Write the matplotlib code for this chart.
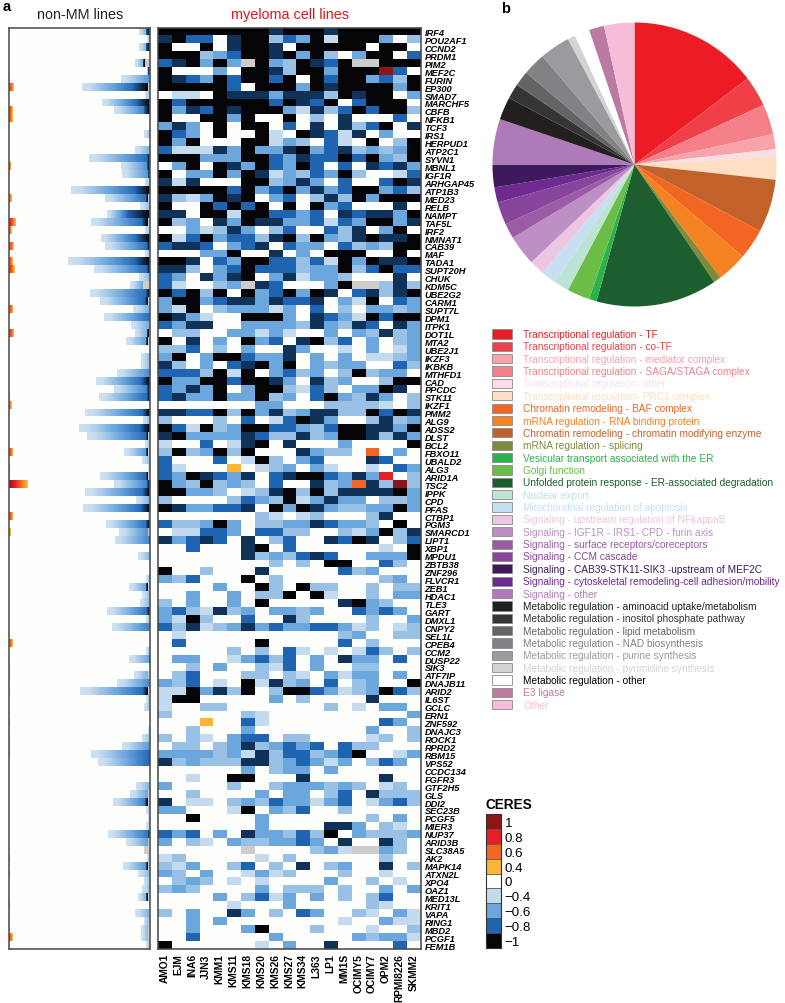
#!/usr/bin/env python3
"""
CERES heatmaps of myeloma dependency genes, plus functional category pie
"""
import numpy as np
import matplotlib
matplotlib.use("Agg")
import matplotlib.pyplot as plt
from matplotlib.colors import LinearSegmentedColormap, Normalize
from matplotlib.patches import Rectangle

plt.rcParams['font.family'] = ['Liberation Sans', 'DejaVu Sans']

genes = ["IRF4", "POU2AF1", "CCND2", "PRDM1", "PIM2", "MEF2C", "FURIN", "EP300", "SMAD7", "MARCHF5",
         "CBFB", "NFKB1", "TCF3", "IRS1", "HERPUD1", "ATP2C1", "SYVN1", "MBNL1", "IGF1R", "ARHGAP45",
         "ATP1B3", "MED23", "RELB", "NAMPT", "TAF5L", "IRF2", "NMNAT1", "CAB39", "MAF", "TADA1",
         "SUPT20H", "CHUK", "KDM5C", "UBE2G2", "CARM1", "SUPT7L", "DPM1", "ITPK1", "DOT1L", "MTA2",
         "UBE2J1", "IKZF3", "IKBKB", "MTHFD1", "CAD", "PPCDC", "STK11", "IKZF1", "PMM2", "ALG9",
         "ADSS2", "DLST", "BCL2", "FBXO11", "UBALD2", "ALG3", "ARID1A", "TSC2", "IPPK", "CPD",
         "PFAS", "CTBP1", "PGM3", "SMARCD1", "LIPT1", "XBP1", "MPDU1", "ZBTB38", "ZNF296", "FLVCR1",
         "ZEB1", "HDAC1", "TLE3", "GART", "DMXL1", "CNPY2", "SEL1L", "CPEB4", "CCM2", "DUSP22",
         "SIK3", "ATF7IP", "DNAJB11", "ARID2", "IL6ST", "GCLC", "ERN1", "ZNF592", "DNAJC3", "ROCK1",
         "RPRD2", "RBM15", "VPS52", "CCDC134", "FGFR3", "GTF2H5", "GLS", "DDI2", "SEC23B", "PCGF5",
         "MIER3", "NUP37", "ARID3B", "SLC38A5", "AK2", "MAPK14", "ATXN2L", "XPO4", "OAZ1", "MED13L",
         "KRIT1", "VAPA", "RING1", "MBD2", "PCGF1", "FEM1B"]

cell_lines = ["AMO1", "EJM", "INA6", "JJN3", "KMM1", "KMS11", "KMS18", "KMS20", "KMS26", "KMS27",
              "KMS34", "L363", "LP1", "MM1S", "OCIMY5", "OCIMY7", "OPM2", "RPMI8226", "SKMM2"]

# one code per cell line
code_values = {"0": 0.0, "1": -0.4, "2": -0.5, "3": -0.6, "4": -0.8, "5": -0.9, "6": -1.0,
               "o": 0.4, "r": 0.6, "R": 0.8, "D": 1.0, "n": np.nan}
myeloma_rows = [
    "6 6 6 6 6 6 6 6 5 6 6 6 5 6 6 6 6 6 6",
    "5 6 4 4 0 5 6 6 2 4 3 6 1 6 6 6 3 0 2",
    "6 0 0 6 0 5 6 6 5 0 6 6 6 6 6 0 6 6 0",
    "6 6 6 2 3 4 6 6 5 6 3 6 2 0 3 6 6 0 4",
    "4 5 6 3 6 3 n 6 3 2 6 5 4 6 n n 6 6 6",
    "6 0 0 0 3 0 6 6 5 2 6 6 3 6 6 6 D 4 0",
    "6 5 4 3 6 4 6 6 4 6 0 6 4 6 6 3 4 2 6",
    "6 6 6 6 6 4 0 6 6 6 3 6 5 6 6 6 6 3 6",
    "0 1 1 0 6 5 5 5 3 5 5 5 2 6 5 6 6 0 3",
    "6 4 6 6 6 6 6 6 4 6 5 4 6 0 4 6 6 6 0",
    "6 3 5 4 6 5 6 6 6 3 1 5 2 4 6 4 6 6 2",
    "6 0 0 6 6 3 6 0 0 6 0 2 0 5 0 0 0 4 0",
    "3 5 3 0 6 0 6 6 0 4 0 5 0 5 2 4 6 0 5",
    "6 4 3 0 6 0 0 6 1 0 6 5 4 1 5 0 3 0 0",
    "6 3 6 0 0 0 6 6 1 3 2 0 4 1 0 6 0 2 6",
    "4 1 1 1 5 3 6 3 3 5 6 3 4 5 2 3 2 3 6",
    "6 6 6 3 3 3 6 6 4 3 5 4 4 6 4 6 3 2 6",
    "0 3 6 0 6 5 3 6 4 3 6 4 0 4 0 5 4 5 3",
    "6 0 3 3 6 3 6 5 1 3 2 4 3 6 2 0 0 1 4",
    "5 1 5 0 0 0 6 6 2 3 5 3 0 4 0 0 4 6 5",
    "6 6 6 6 6 4 6 3 4 6 3 5 3 4 6 6 3 4 2",
    "5 2 1 3 6 5 6 0 3 4 0 2 5 2 6 3 6 6 6",
    "6 0 0 6 4 6 4 6 0 6 0 6 3 4 0 0 0 5 0",
    "5 5 0 6 6 1 6 6 4 4 3 4 0 5 4 5 5 3 6",
    "6 2 3 0 5 3 6 5 5 3 3 4 1 4 3 6 6 3 5",
    "0 0 3 1 2 5 3 0 2 4 0 0 4 2 5 0 3 6 0",
    "6 1 4 6 3 4 4 2 5 6 2 6 3 2 5 6 5 5 6",
    "4 5 5 4 0 3 4 5 0 4 3 3 0 4 2 3 2 6 6",
    "0 0 0 3 3 6 0 0 5 0 3 0 6 6 6 0 0 6 0",
    "6 6 5 0 4 3 6 6 4 4 2 4 1 6 3 6 5 5 6",
    "5 5 2 0 3 4 6 4 4 4 2 3 3 6 2 4 6 4 4",
    "4 3 0 5 3 5 6 0 3 5 1 3 3 2 0 0 0 5 0",
    "4 1 0 0 2 3 n 5 4 0 0 0 3 6 n n 2 5 2",
    "6 4 6 2 6 0 6 3 4 6 3 6 5 0 4 5 2 5 6",
    "3 6 6 3 4 5 5 3 5 4 4 5 0 3 1 6 0 4 3",
    "3 1 6 0 2 3 3 3 1 3 0 4 0 2 0 3 3 2 3",
    "6 5 3 1 0 0 6 6 6 3 0 5 4 3 1 6 4 6 6",
    "4 3 5 5 0 0 3 3 3 3 2 5 3 2 5 4 0 5 3",
    "0 2 2 0 0 3 3 1 3 1 0 0 3 0 3 2 5 2 3",
    "6 0 5 0 3 0 6 3 4 0 5 6 2 4 0 3 0 2 3",
    "2 2 4 0 2 0 3 0 0 5 3 0 0 1 0 3 0 1 3",
    "3 6 0 3 6 6 4 3 3 5 0 3 0 3 0 1 1 2 3",
    "5 2 0 3 0 4 5 6 3 6 0 3 2 3 3 0 0 4 2",
    "4 4 4 2 6 1 6 0 3 4 2 3 0 2 6 2 3 3 0",
    "6 3 3 6 6 4 6 6 5 3 0 5 2 3 0 0 2 6 6",
    "4 3 5 3 6 0 3 6 6 2 1 4 2 0 3 3 6 5 0",
    "4 5 3 3 6 3 3 6 2 3 0 4 6 3 2 5 3 0 2",
    "0 0 0 0 0 0 0 3 3 0 0 0 2 2 2 2 1 0 2",
    "5 5 4 4 6 2 6 3 5 2 3 5 5 2 2 6 4 6 5",
    "2 0 0 0 2 0 4 0 1 4 6 5 3 0 0 2 5 2 3",
    "6 4 1 6 2 3 6 6 4 4 3 2 4 6 6 5 5 3 6",
    "5 6 3 3 3 3 5 4 2 2 5 2 3 6 6 5 2 5 3",
    "1 0 0 4 0 1 5 6 0 5 0 0 0 3 0 0 0 0 6",
    "2 6 2 3 6 2 6 0 0 0 5 3 2 2 0 r 0 3 0",
    "4 0 0 0 4 0 1 6 2 0 3 4 0 0 0 5 4 0 0",
    "4 1 0 0 0 o 0 1 2 3 0 3 1 0 0 1 0 4 3",
    "4 3 6 5 4 3 5 0 4 5 6 6 4 3 5 3 R 0 2",
    "6 3 2 6 2 3 2 0 4 0 0 5 2 3 r 5 2 D 2",
    "6 6 3 3 2 0 1 2 5 6 2 6 2 5 5 5 5 6 3",
    "2 0 0 0 0 2 4 3 2 6 1 3 5 3 3 0 2 2 3",
    "6 5 3 3 4 4 5 0 6 3 6 5 3 2 2 3 3 6 3",
    "0 0 0 0 0 0 0 2 1 0 1 2 0 0 0 2 5 0 0",
    "4 2 2 3 6 3 0 2 2 3 3 5 4 3 3 2 0 6 0",
    "0 1 1 4 4 3 0 4 4 2 2 0 0 2 1 3 6 2 5",
    "5 3 4 5 4 0 5 0 2 4 0 0 5 4 6 5 0 2 4",
    "0 0 4 0 0 0 5 6 0 4 0 0 0 0 0 0 1 0 6",
    "0 0 0 0 0 0 5 2 3 2 4 5 4 0 0 3 3 3 6",
    "0 0 0 0 0 0 0 0 2 0 2 0 6 6 0 0 4 2 0",
    "6 0 0 2 0 0 0 5 0 0 0 0 0 4 2 3 0 0 0",
    "3 2 4 0 0 0 6 0 2 0 0 0 0 0 0 0 2 3 0",
    "0 0 0 0 3 0 0 6 2 0 6 2 2 0 0 2 0 2 2",
    "0 0 3 0 0 3 0 2 2 6 0 6 1 0 0 2 0 3 3",
    "2 0 3 0 0 3 0 6 0 0 0 0 0 5 6 3 2 0 0",
    "3 4 2 1 5 2 3 0 3 3 2 3 0 0 4 3 4 3 0",
    "3 1 6 2 0 0 4 0 0 5 2 0 0 0 0 2 0 0 3",
    "4 2 5 1 2 3 5 3 4 3 3 4 4 3 1 2 0 1 2",
    "0 1 0 0 0 0 0 0 0 0 0 0 0 2 3 0 0 2 2",
    "0 4 0 0 0 0 0 6 0 0 0 0 0 4 0 2 0 0 0",
    "0 0 0 0 0 2 0 2 0 4 1 0 1 0 1 4 2 0 2",
    "0 3 3 0 0 1 3 4 2 4 0 3 0 5 3 3 0 4 0",
    "0 0 2 0 3 0 0 2 1 4 0 3 0 0 2 2 0 0 0",
    "0 2 4 0 0 0 2 2 0 2 1 0 3 1 3 3 0 3 0",
    "3 2 4 0 1 0 6 1 5 2 3 0 4 0 2 3 0 0 6",
    "1 1 6 3 5 2 6 0 2 6 6 4 3 1 2 3 6 4 2",
    "1 6 6 0 0 0 0 0 3 0 2 0 0 0 0 5 0 0 0",
    "1 0 0 2 2 0 0 0 0 0 0 0 2 0 1 0 3 3 0",
    "2 0 0 0 0 0 2 1 0 0 0 0 0 0 0 0 0 0 3",
    "0 0 0 o 0 0 4 1 0 0 0 0 0 0 0 0 4 3 0",
    "0 0 2 0 0 0 3 0 0 0 0 0 0 0 0 3 0 0 2",
    "2 0 2 1 0 3 4 4 0 2 2 0 0 0 0 1 2 0 2",
    "0 2 2 0 2 3 5 2 3 4 3 4 0 4 2 2 0 0 0",
    "3 3 3 3 2 3 1 5 2 4 4 2 3 4 6 0 0 1 3",
    "5 2 3 2 2 2 5 5 2 3 4 3 1 3 0 2 4 3 0",
    "0 0 0 0 0 0 3 0 2 3 3 0 3 0 0 0 0 0 0",
    "0 0 1 0 0 6 6 0 0 0 5 0 0 0 0 0 5 0 0",
    "3 0 0 0 0 2 0 0 2 3 3 3 2 3 2 0 1 2 0",
    "0 0 2 0 0 0 0 3 0 3 3 0 2 4 0 5 2 2 2",
    "5 0 1 1 0 2 3 2 4 3 3 1 3 4 0 1 3 4 2",
    "3 3 0 0 0 1 6 0 3 2 4 0 0 2 0 0 0 0 0",
    "0 0 6 0 0 0 0 3 0 0 0 0 0 0 0 2 0 3 0",
    "0 0 0 0 0 0 0 3 0 0 0 0 5 5 3 0 2 1 0",
    "4 3 4 0 3 0 5 3 3 2 4 2 6 0 3 2 2 2 3",
    "3 0 2 1 0 3 2 2 3 3 4 3 0 5 0 0 5 2 0",
    "0 0 0 0 0 0 n 0 0 0 0 2 3 1 n n 3 2 0",
    "1 2 0 0 0 0 0 1 0 2 0 0 0 0 0 0 2 0 0",
    "2 1 3 0 0 2 4 0 2 0 5 0 2 3 0 0 5 0 2",
    "3 2 0 3 0 0 1 3 1 2 0 0 0 2 0 0 1 0 0",
    "0 2 3 2 0 1 0 1 0 0 0 0 3 0 0 2 0 1 0",
    "2 3 2 0 0 0 0 3 0 2 2 2 0 2 0 0 3 0 3",
    "0 0 0 0 3 0 2 4 1 3 0 3 0 2 0 2 4 0 0",
    "0 0 0 0 0 1 0 0 0 3 0 0 0 0 0 2 1 0 0",
    "2 0 3 0 0 5 3 0 2 0 4 3 0 0 2 1 0 3 1",
    "0 0 3 0 3 0 0 0 0 0 0 0 0 1 0 0 3 1 1",
    "0 0 3 0 0 0 3 6 0 0 0 2 0 0 0 1 0 0 2",
    "0 0 4 0 0 0 0 0 3 0 0 0 0 0 3 2 3 3 1",
    "6 0 0 0 0 0 0 1 0 3 0 0 5 0 0 0 0 4 0",
]

# non-MM panel: widths of each row's parts, in picture pixels
nonmm_blue = [11, 3, 11, 0, 15, 3, 29, 68, 5, 48, 36, 0, 1, 6, 0, 15, 61, 29, 28, 5,
              79, 45, 10, 43, 59, 5, 49, 45, 5, 82, 56, 11, 20, 60, 50, 17, 46, 19, 15, 24,
              0, 9, 9, 33, 54, 36, 51, 1, 65, 7, 71, 63, 5, 26, 8, 2, 50, 36, 65, 14,
              67, 2, 44, 31, 35, 0, 12, 0, 0, 4, 21, 8, 10, 43, 4, 38, 0, 0, 4, 21,
              0, 16, 33, 70, 4, 6, 0, 0, 2, 8, 28, 59, 52, 0, 0, 14, 20, 37, 4, 2,
              4, 42, 24, 6, 3, 27, 12, 6, 8, 12, 0, 15, 6, 9, 9, 4]
nonmm_tip = [4, 0, 4, 0, 2, 2, 0, 15, 0, 13, 6, 0, 0, 0, 0, 0, 3, 3, 2, 0,
             15, 2, 0, 23, 6, 0, 13, 3, 0, 15, 3, 0, 0, 4, 3, 0, 0, 0, 2, 2,
             0, 0, 0, 0, 8, 3, 3, 0, 7, 0, 10, 2, 0, 2, 0, 0, 2, 3, 7, 0,
             9, 0, 4, 0, 1, 0, 0, 0, 0, 0, 2, 0, 0, 3, 0, 0, 0, 0, 0, 1,
             0, 0, 0, 5, 0, 0, 0, 0, 0, 0, 0, 1, 1, 0, 0, 0, 0, 3, 0, 0,
             0, 2, 0, 0, 0, 2, 0, 0, 0, 2, 0, 0, 0, 0, 0, 0]
nonmm_gray = [0, 0, 0, 0, 5, 0, 0, 2, 0, 0, 0, 0, 0, 0, 0, 0, 0, 0, 0, 0,
              0, 2, 0, 0, 2, 0, 0, 0, 0, 0, 0, 0, 7, 0, 2, 0, 0, 0, 1, 2,
              0, 0, 0, 0, 0, 0, 0, 0, 0, 0, 0, 2, 0, 2, 0, 0, 2, 0, 0, 0,
              0, 2, 0, 2, 0, 0, 0, 0, 0, 0, 2, 0, 0, 0, 0, 0, 0, 0, 0, 0,
              0, 2, 0, 2, 0, 0, 0, 0, 0, 0, 0, 0, 0, 0, 0, 0, 2, 2, 0, 0,
              0, 0, 2, 6, 0, 2, 0, 0, 0, 2, 0, 0, 2, 2, 2, 0]
nonmm_warm = [0, 0, 0, 0, 0, 0, 1, 5, 0, 0, 4, 4, 0, 0, 0, 0, 0, 2.5, 0, 0,
              0, 3, 0, 0, 7, 3, 0, 5, 0, 4, 6, 0, 0.5, 0, 0.5, 4.5, 0, 0, 5.5, 0,
              0, 0, 0, 0, 0, 0, 1.5, 3, 0, 0, 0, 0, 0, 4.5, 0, 1.5, 1, 19, 0, 0,
              0, 4.5, 0, 2, 0, 0, 0, 0, 0, 0.5, 0, 0.5, 0, 0, 0, 0, 0.5, 4, 0.5, 0,
              1, 1, 0, 1, 0, 0.5, 0, 1.5, 0, 1, 1, 1, 0, 0, 0, 0, 0, 0, 0, 0,
              0, 0, 0, 0, 1.5, 0, 1.5, 0, 0, 0, 1.5, 0, 1, 0, 4, 0]

# pie: genes per category, clockwise from 12 o'clock
pie_counts = [17, 4, 4, 2, 1, 3, 7, 4, 4, 1, 16, 1, 3, 2, 2, 2, 4, 2, 3, 2, 3, 6,
              3, 2, 2, 3, 4, 1, 2, 2, 4]
pie_colors = ["#ed1c24", "#ef4048", "#f58089", "#f7a3aa", "#fbdde6", "#fedfc3", "#c1622a", "#f26522",
              "#f58220", "#7f8a3a", "#1c5e2e", "#2bb24c", "#6abd45", "#bde3d5", "#c7dff2", "#ebc7e2",
              "#bd8fc4", "#9b5ba5", "#88459c", "#6f2a90", "#3d1a5c", "#ae7bb8", "#231f20", "#363435",
              "#636466", "#808285", "#9a9b9f", "#d1d3d4", "#ffffff", "#bb7aa2", "#f6bdd9"]

legend_labels = ["Transcriptional regulation - TF",
                 "Transcriptional regulation - co-TF",
                 "Transcriptional regulation - mediator complex",
                 "Transcriptional regulation - SAGA/STAGA complex",
                 "Transcriptional regulation- other",
                 "Transcriptional regulation- PRC1 complex",
                 "Chromatin remodeling - BAF complex",
                 "mRNA regulation - RNA binding protein",
                 "Chromatin remodeling - chromatin modifying enzyme",
                 "mRNA regulation - splicing",
                 "Vesicular transport associated with the ER",
                 "Golgi function",
                 "Unfolded protein response - ER-associated degradation",
                 "Nuclear export",
                 "Mitochondrial regulation of apoptosis",
                 "Signaling - upstream regulation of NFkappaB",
                 "Signaling - IGF1R - IRS1- CPD - furin axis",
                 "Signaling - surface receptors/coreceptors",
                 "Signaling - CCM cascade",
                 "Signaling - CAB39-STK11-SIK3 -upstream of MEF2C",
                 "Signaling - cytoskeletal remodeling-cell adhesion/mobility",
                 "Signaling - other",
                 "Metabolic regulation - aminoacid uptake/metabolism",
                 "Metabolic regulation - inositol phosphate pathway",
                 "Metabolic regulation - lipid metabolism",
                 "Metabolic regulation - NAD biosynthesis",
                 "Metabolic regulation - purine synthesis",
                 "Metabolic regulation - pyrimidine synthesis",
                 "Metabolic regulation - other",
                 "E3 ligase",
                 "Other"]
legend_colors = ["#ed1c24", "#ef4048", "#f7a3aa", "#f58089", "#fbdde6", "#fedfc3", "#f26522", "#f58220",
                 "#c1622a", "#7f8a3a", "#2bb24c", "#6abd45", "#1c5e2e", "#bde3d5", "#c7dff2", "#ebc7e2",
                 "#bd8fc4", "#9b5ba5", "#88459c", "#3d1a5c", "#6f2a90", "#ae7bb8", "#231f20", "#363435",
                 "#636466", "#808285", "#9a9b9f", "#d1d3d4", "#000000", "#bb7aa2", "#f6bdd9"]

cbar_ticks = [1, 0.8, 0.6, 0.4, 0, -0.4, -0.6, -0.8, -1]
cbar_labels = ["1", "0.8", "0.6", "0.4", "0", "\u22120.4", "\u22120.6", "\u22120.8", "\u22121"]

W, H = 785, 1004
DPI = 100


def px_axes(fig, left, top, right, bottom):
    """Axes placed by picture pixels, y measured from the top."""
    return fig.add_axes([left / W, 1 - bottom / H, (right - left) / W, (bottom - top) / H])


def style_frame(ax, color="#444444", lw=1.1):
    for s in ax.spines.values():
        s.set_color(color)
        s.set_linewidth(lw)


ceres_cmap = LinearSegmentedColormap.from_list("ceres", [
    (0.0, "#050507"), (0.1, "#1f66b4"), (0.2, "#6ba6dd"), (0.3, "#c6dcef"),
    (0.5, "#ffffff"), (0.7, "#fdb735"), (0.8, "#f26522"), (0.9, "#e81f27"), (1.0, "#8b1517")])
ceres_cmap.set_bad("#cccccc")
norm = Normalize(-1, 1)

fig = plt.figure(figsize=(W / DPI, H / DPI), dpi=DPI)

# myeloma heatmap
matrix = np.array([[code_values[c] for c in row.split()] for row in myeloma_rows])
ax = px_axes(fig, 157.5, 28.5, 420.5, 950)
ax.imshow(matrix, cmap=ceres_cmap, norm=norm, aspect="auto", interpolation="nearest")
ax.yaxis.tick_right()
ax.set_yticks(np.arange(len(genes)))
ax.set_yticklabels(genes, fontsize=6.7, fontweight="bold", fontstyle="italic")
ax.set_xticks(np.arange(len(cell_lines)))
ax.set_xticklabels(cell_lines, rotation=90, fontsize=7.4, fontweight="bold")
ax.tick_params(axis="y", length=0, pad=3)
ax.tick_params(axis="x", length=0, pad=3)
style_frame(ax)

# non-MM panel, two sub-columns per pixel so half pixel widths survive
cols = 282
strip = np.zeros((len(genes), cols))
for i in range(len(genes)):
    n_warm = int(round(nonmm_warm[i] * 2))
    if n_warm:
        # wider warm ends reach deeper into the red
        strip[i, :n_warm] = np.linspace(min(1.0, 0.65 + 0.035 * nonmm_warm[i]), 0.38, n_warm)
    n_gray = nonmm_gray[i] * 2
    n_blue = nonmm_blue[i] * 2
    n_tip = nonmm_tip[i] * 2
    end = cols - n_gray
    start = cols - n_blue
    if n_blue > n_gray:
        body_end = max(start, end - n_tip)
        if body_end > start:
            deepest = -0.45 - min(0.33, 0.007 * nonmm_blue[i])
            strip[i, start:body_end] = np.linspace(-0.33, deepest, body_end - start)
        if end > body_end:
            strip[i, body_end:end] = np.linspace(-0.8, -1.0, end - body_end)
    if n_gray:
        strip[i, cols - n_gray:] = np.nan
ax2 = px_axes(fig, 9, 28.5, 150, 950)
ax2.imshow(strip, cmap=ceres_cmap, norm=norm, aspect="auto", interpolation="nearest")
ax2.set_xticks([])
ax2.set_yticks([])
style_frame(ax2, "#555555", 1.2)

# pie
ax3 = px_axes(fig, 492.5, 23.5, 776.5, 307.5)
ax3.pie(pie_counts, colors=pie_colors, startangle=90, counterclock=False, radius=1.0,
        wedgeprops={"linewidth": 0})
ax3.set_xlim(-1, 1)
ax3.set_ylim(-1, 1)

# legend, drawn on an overlay in pixel coordinates
over = fig.add_axes([0, 0, 1, 1], facecolor="none")
over.set_xlim(0, W)
over.set_ylim(H, 0)
over.axis("off")
for i, (lab, col) in enumerate(zip(legend_labels, legend_colors)):
    y = 335 + i * 12.36
    patch_col = "#ffffff" if lab == "Metabolic regulation - other" else col
    over.add_patch(Rectangle((491.5, y - 4.6), 20, 9.2, facecolor=patch_col, edgecolor="#8a8a8a", linewidth=0.6))
    over.text(523.3, y, lab, color=col, fontsize=7.3, va="center", ha="left")

over.text(80, 15, "non-MM lines", fontsize=10.4, ha="center", va="center", color="#222222")
over.text(290, 15.5, "myeloma cell lines", fontsize=10.4, ha="center", va="center", color="#e8141c")
over.text(3, 7, "a", fontsize=10.5, fontweight="bold", ha="left", va="center")
over.text(501, 9, "b", fontsize=10.5, fontweight="bold", ha="left", va="center")
over.text(486, 805.5, "CERES", fontsize=9.8, fontweight="bold", ha="left", va="center")

# colour key
ax4 = px_axes(fig, 486, 815, 500.5, 949)
ax4.imshow(np.array(cbar_ticks).reshape(-1, 1), cmap=ceres_cmap, norm=norm, aspect="auto", interpolation="nearest")
ax4.yaxis.tick_right()
ax4.set_yticks(np.arange(len(cbar_ticks)))
ax4.set_yticklabels(cbar_labels, fontsize=9.6)
ax4.set_xticks([])
ax4.tick_params(length=0, pad=3)
ax4.hlines(np.arange(len(cbar_ticks) - 1) + 0.5, -0.5, 0.5, color="#555555", linewidth=0.6)
style_frame(ax4, "#333333", 0.8)

fig.savefig("out.png", dpi=DPI)
